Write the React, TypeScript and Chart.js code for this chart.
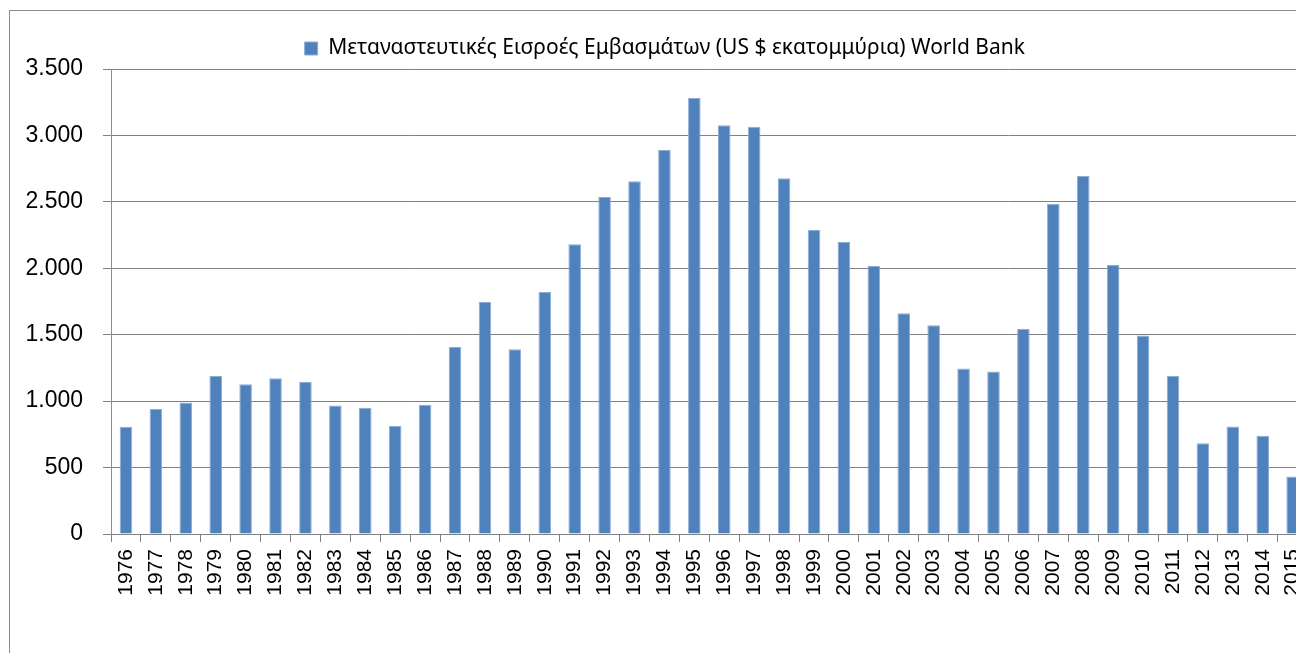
import React, { useEffect, useRef } from 'react';
import { Chart, registerables } from 'chart.js';

Chart.register(...registerables);

const years = [
  '1976', '1977', '1978', '1979', '1980', '1981', '1982', '1983', '1984', '1985',
  '1986', '1987', '1988', '1989', '1990', '1991', '1992', '1993', '1994', '1995',
  '1996', '1997', '1998', '1999', '2000', '2001', '2002', '2003', '2004', '2005',
  '2006', '2007', '2008', '2009', '2010', '2011', '2012', '2013', '2014', '2015',
];

const remittances = [
  807, 942, 989, 1190, 1128, 1173, 1145, 967, 950, 814,
  972, 1408, 1746, 1391, 1822, 2180, 2536, 2656, 2892, 3283,
  3077, 3065, 2677, 2288, 2198, 2017, 1662, 1571, 1245, 1223,
  1544, 2486, 2695, 2025, 1495, 1190, 684, 809, 739, 433,
];

const yTickLabels = ['0', '500', '1.000', '1.500', '2.000', '2.500', '3.000', '3.500'];

const seriesLabel = 'Μεταναστευτικές Εισροές Εμβασμάτων (US $ εκατομμύρια) World Bank';

const outerBorder = {
  id: 'outerBorder',
  beforeDraw(chart: any) {
    const ctx = chart.ctx;
    ctx.save();
    ctx.fillStyle = '#ffffff';
    ctx.fillRect(0, 0, chart.width, chart.height);
    ctx.strokeStyle = '#8c8c8c';
    ctx.lineWidth = 1;
    ctx.strokeRect(9.5, 10.5, 1311, 680);
    ctx.restore();
  },
};

export default function App() {
  const canvasRef = useRef<HTMLCanvasElement | null>(null);

  useEffect(() => {
    if (!canvasRef.current) return;
    const chart = new Chart(canvasRef.current, {
      type: 'bar',
      data: {
        labels: years,
        datasets: [
          {
            label: seriesLabel,
            data: remittances,
            backgroundColor: '#4F81BD',
            borderColor: '#8dadd4',
            borderWidth: 1,
            borderSkipped: 'bottom',
            barPercentage: 0.42,
            categoryPercentage: 1,
          },
        ],
      },
      plugins: [outerBorder],
      options: {
        responsive: false,
        animation: false,
        devicePixelRatio: 1,
        layout: { padding: { top: 26, left: 22, right: 22.4, bottom: 0 } },
        plugins: {
          legend: {
            position: 'top',
            labels: {
              boxWidth: 13,
              boxHeight: 13,
              padding: 10,
              color: '#000000',
              font: { family: 'Noto Sans', size: 21 },
            },
          },
          tooltip: { enabled: false },
        },
        scales: {
          x: {
            grid: {
              offset: true,
              drawOnChartArea: false,
              drawTicks: true,
              tickLength: 8,
              color: '#808080',
              lineWidth: 1,
            },
            border: { display: true, color: '#808080', width: 1 },
            ticks: {
              autoSkip: false,
              minRotation: 90,
              maxRotation: 90,
              padding: 7,
              color: '#000000',
              font: { family: 'Liberation Sans', size: 21 },
            },
            afterFit: (s: any) => {
              s.height = 166;
            },
          },
          y: {
            min: 0,
            max: 3500,
            ticks: {
              stepSize: 500,
              padding: 20,
              color: '#000000',
              font: { family: 'Liberation Sans', size: 23 },
              callback: (_v: any, i: number) => yTickLabels[i],
            },
            grid: { color: '#808080', lineWidth: 1, drawTicks: true, tickLength: 8 },
            border: { display: true, color: '#8c8c8c', width: 1 },
            afterFit: (s: any) => {
              s.width = 89;
              s.paddingTop = 69;
            },
          },
        },
      },
    });
    return () => chart.destroy();
  }, []);

  return (
    <div
      style={{
        position: 'fixed',
        left: 0,
        top: 0,
        width: 1296,
        height: 653,
        overflow: 'hidden',
        background: '#ffffff',
      }}
    >
      <canvas ref={canvasRef} width={1330} height={700} style={{ display: 'block' }} />
    </div>
  );
}
